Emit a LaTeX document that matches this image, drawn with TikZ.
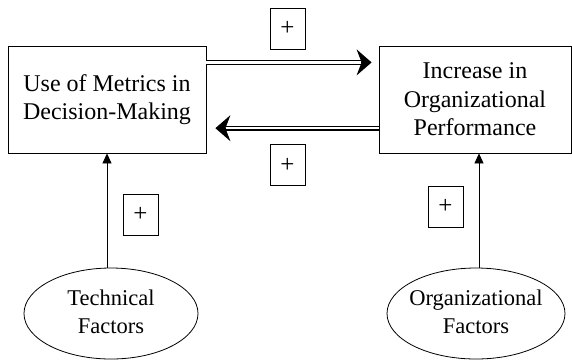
\documentclass[tikz,border=0pt]{standalone}
\usepackage{fontspec}
\setmainfont{Liberation Serif}
\usetikzlibrary{arrows.meta,shapes.geometric,calc}
\begin{document}
\begin{tikzpicture}[x=1pt,y=-1pt,
 box/.style={draw, line width=0.8pt, inner sep=0pt, align=center, font=\fontsize{24}{28.5}\selectfont},
 plusbox/.style={draw, line width=0.8pt, minimum width=35pt, minimum height=41pt, inner sep=0pt, font=\fontsize{25}{30}\selectfont},
 factor/.style={draw, ellipse, line width=0.8pt, inner sep=0pt, font=\fontsize{22.5}{28}\selectfont},
 dbl/.style={double, double distance=2.5pt, line width=1.1pt},
 tip/.style={line width=1pt, -{Stealth[length=15pt,width=26pt,inset=5pt]}},
 vline/.style={line width=0.8pt, -{Triangle[length=10pt,width=9pt]}}]
\useasboundingbox (0,0) rectangle (572,360);
\node[box, minimum width=198pt, minimum height=107pt] (L) at (107,99.5) {Use of Metrics in\\Decision-Making};
\node[box, minimum width=192pt, minimum height=107pt] (R) at (475,99.5) {Increase in\\Organizational\\Performance};
\node[plusbox] (p1) at (287.5,28.5) {\raisebox{-2pt}{+}};
\node[plusbox] (p2) at (287.5,165) {\raisebox{-2pt}{+}};
\node[plusbox] (p3) at (140.5,214.5) {\raisebox{-2pt}{+}};
\node[plusbox] (p4) at (445.5,206.5) {\raisebox{-2pt}{+}};
\node[factor, minimum width=174pt, minimum height=91pt] (T) at (111,313.5)
  {\makebox[0pt][c]{\begin{tabular}{@{}c@{}}Technical\\Factors\end{tabular}}};
\node[factor, minimum width=178pt, minimum height=91pt] (O) at (476,313.5)
  {\makebox[0pt][c]{\begin{tabular}{@{}c@{}}Organizational\\Factors\end{tabular}}};
% top double arrow
\coordinate (a1) at ($(L.north east)!0.156!(L.south east)$);
\coordinate (c1) at ($(a1 -| R.west)+(-7,0)$);
\draw[tip] (a1) -- (c1);
\draw[dbl, shorten >=11pt] (a1) -- (c1);
% bottom double arrow
\coordinate (a2) at ($(R.north west)!0.766!(R.south west)$);
\coordinate (c2) at ($(a2 -| L.east)+(9,0)$);
\draw[tip] (a2) -- (c2);
\draw[dbl, shorten >=11pt] (a2) -- (c2);
% vertical arrows
\draw[vline] (L.south |- T.north) -- (L.south);
\draw[vline] ([xshift=3pt]O.north) -- ([xshift=3pt]O.north |- R.south);
\end{tikzpicture}
\end{document}
